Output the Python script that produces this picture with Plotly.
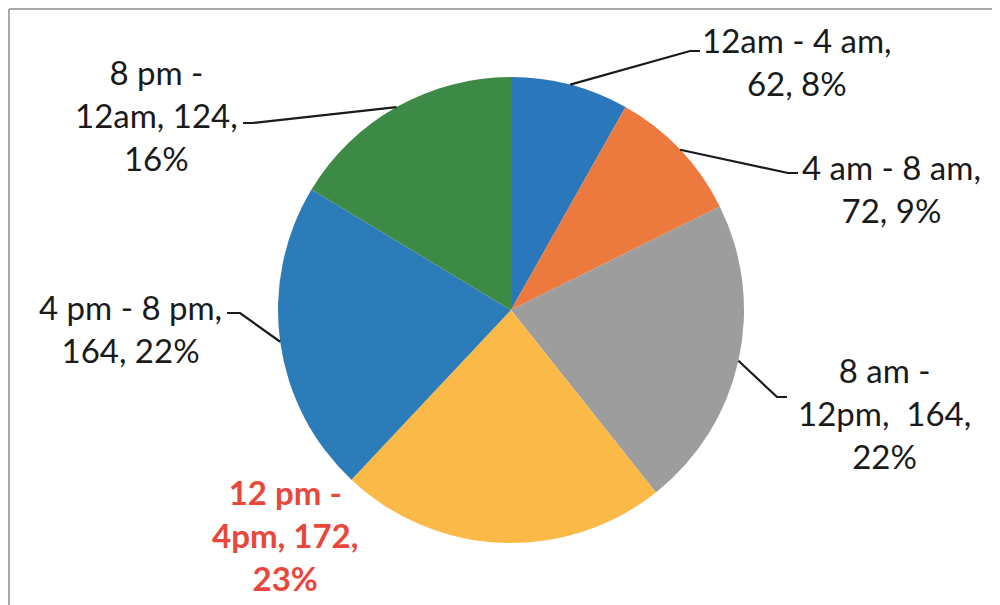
import math
import plotly.graph_objects as go

# ---- data ----
categories = ["12am - 4 am", "4 am - 8 am", "8 am - 12pm", "12 pm - 4pm", "4 pm - 8 pm", "8 pm - 12am"]
values = [62, 72, 164, 172, 164, 124]
colors = ["#2a77bb", "#ec7a3f", "#9d9d9d", "#fbba47", "#2b7cb9", "#3d8a47"]

# label text (line breaks as in the original)
label_lines = [
    ["12am - 4 am,", "{v}, {p}%"],
    ["4 am - 8 am,", "{v}, {p}%"],
    ["8 am -", "12pm,  {v},", "{p}%"],
    ["12 pm -", "4pm, {v},", "{p}%"],
    ["4 pm - 8 pm,", "{v}, {p}%"],
    ["8 pm -", "12am, {v},", "{p}%"],
]

W, H = 1000, 605
PAGE_OFF = 8                # the page body margin shifts the figure by 8px
cx, cy, R = 511, 310, 233  # pie centre / radius in screen pixels

# label placement (screen pixels): text centre, elbow point, line end near text
label_pos = [(797, 61), (891, 188), (884, 413), (285, 535), (130, 328), (156, 115)]
elbows = [((690, 51), (700, 51)), ((788, 173), (798, 173)), ((777, 397), (787, 397)),
          None, ((240, 313), (227, 313)), ((252, 123), (243, 123))]

def px(x):
    return (x - PAGE_OFF) / W

def py(y):
    return 1 - (y - PAGE_OFF) / H

total = sum(values)

fig = go.Figure(go.Pie(
    labels=categories,
    values=values,
    sort=False,
    direction="clockwise",
    rotation=0,
    marker=dict(colors=colors, line=dict(width=0)),
    textinfo="none",
    hoverinfo="label+value+percent",
    showlegend=False,
    domain=dict(x=[px(cx - R), px(cx + R)], y=[py(cy + R), py(cy - R)]),
))

annotations = []
shapes = []
cum = 0
for i, v in enumerate(values):
    mid = (cum + v / 2) / total
    cum += v
    pct = round(100 * v / total)
    text = "<br>".join(l.format(v=v, p=pct) for l in label_lines[i])
    red = categories[i] == "12 pm - 4pm"
    tx, ty = label_pos[i]
    annotations.append(dict(
        x=px(tx), y=py(ty), xref="paper", yref="paper",
        text=("<b>" + text + "</b>") if red else text,
        showarrow=False, xanchor="center", yanchor="middle", align="center",
        font=dict(family="Lato", size=33, color="#e8473c" if red else "#1a1a1a"),
    ))
    if elbows[i] is not None:
        ang = 2 * math.pi * mid
        ex = cx + R * math.sin(ang)
        ey = cy - R * math.cos(ang)
        (bx, by), (fx, fy) = elbows[i]
        path = f"M {px(ex)},{py(ey)} L {px(bx)},{py(by)} L {px(fx)},{py(fy)}"
        shapes.append(dict(type="path", path=path, xref="paper", yref="paper",
                           line=dict(color="#1a1a1a", width=2.2)))

# chart border (top and left edges visible in the scan)
shapes.append(dict(type="line", xref="paper", yref="paper", x0=px(9), y0=py(9), x1=1, y1=py(9),
                   line=dict(color="#a8a8a8", width=2)))
shapes.append(dict(type="line", xref="paper", yref="paper", x0=px(9), y0=py(9), x1=px(9), y1=0,
                   line=dict(color="#a8a8a8", width=2)))

fig.update_layout(
    width=W, height=H,
    margin=dict(l=0, r=0, t=0, b=0),
    paper_bgcolor="white",
    plot_bgcolor="white",
    annotations=annotations,
    shapes=shapes,
)

fig.write_html("out.html")
